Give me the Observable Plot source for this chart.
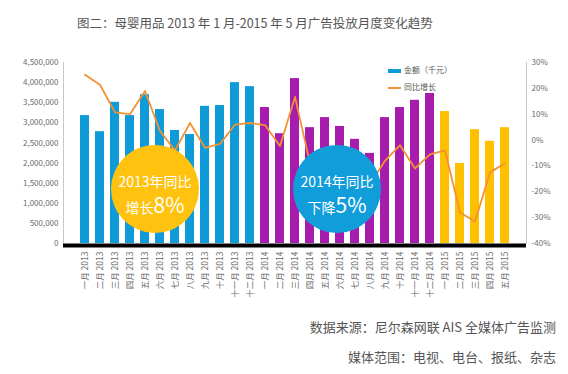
<!DOCTYPE html>
<html><head><meta charset="utf-8">
<script src="https://cdn.jsdelivr.net/npm/d3@7"></script>
<script src="https://cdn.jsdelivr.net/npm/@observablehq/plot@0.6"></script>
<style>
body{margin:0;background:#fff;font-family:"Noto Sans CJK SC","Noto Sans",sans-serif;}
#wrap{position:relative;width:568px;height:374px;overflow:hidden;background:#fff;}
#title{position:absolute;left:77px;top:13px;font-size:12.5px;color:#555;white-space:nowrap;}
#chart{position:absolute;left:0;top:0;}
.leg{position:absolute;font-size:8px;color:#595959;white-space:nowrap;}
.sw{display:inline-block;vertical-align:middle;margin-right:3px;}
.circ{position:absolute;width:88px;height:88px;border-radius:50%;color:#fff;text-align:center;}
.circ .l1{position:absolute;left:0;right:0;top:28px;font-size:14px;line-height:16px;}
.circ .l2{position:absolute;left:0;right:0;top:48px;font-size:14px;line-height:22px;}
.circ .big{font-size:21px;}
.cap{position:absolute;right:12px;font-size:13px;color:#555;white-space:nowrap;}
</style></head><body>
<div id="wrap">
  <div id="chart"></div>
  <div id="title">图二：母婴用品 2013 年 1 月-2015 年 5 月广告投放月度变化趋势</div>
  <div class="leg" style="left:388px;top:64px;"><span class="sw" style="width:13px;height:4px;background:#0E9BD8;"></span>金额（千元）</div>
  <div class="leg" style="left:388px;top:81px;"><span class="sw" style="width:13px;height:2px;background:#F39232;"></span>同比增长</div>
  <div class="circ" style="left:111px;top:145px;background:#FFC20E;"><div class="l1">2013年同比</div><div class="l2">增长<span class="big">8%</span></div></div>
  <div class="circ" style="left:293px;top:145px;background:#119DDA;"><div class="l1">2014年同比</div><div class="l2">下降<span class="big">5%</span></div></div>
  <div class="cap" style="top:317px;">数据来源：尼尔森网联 AIS 全媒体广告监测</div>
  <div class="cap" style="top:347px;">媒体范围：电视、电台、报纸、杂志</div>
</div>
<script>
const months = [
  "一月 2013","二月 2013","三月 2013","四月 2013","五月 2013","六月 2013","七月 2013","八月 2013","九月 2013","十月 2013","十一月 2013","十二月 2013",
  "一月 2014","二月 2014","三月 2014","四月 2014","五月 2014","六月 2014","七月 2014","八月 2014","九月 2014","十月 2014","十一月 2014","十二月 2014",
  "一月 2015","二月 2015","三月 2015","四月 2015","五月 2015"
];
const years = months.map(m => m.slice(-4));
const amounts = [
  3180000, 2780000, 3510000, 3180000, 3700000, 3330000, 2810000, 2710000, 3410000, 3430000, 4000000, 3900000,
  3380000, 2730000, 4100000, 2880000, 3130000, 2910000, 2590000, 2240000, 3130000, 3380000, 3560000, 3730000,
  3280000, 1990000, 2830000, 2540000, 2880000
];
const growth = [
  25.3, 21.4, 10.7, 10.0, 19.0, 3.5, -4.0, 6.6, -3.0, -1.5, 6.0, 6.6,
  5.8, -2.3, 16.7, -9.0, -13.0, -12.0, -10.0, -17.0, -8.0, -2.0, -11.0, -5.5,
  -4.0, -28.0, -31.5, -12.5, -9.0
];
const amountTicks = [0,500000,1000000,1500000,2000000,2500000,3000000,3500000,4000000,4500000];
const pctTicks = [-40,-30,-20,-10,0,10,20,30];
const yearColors = {domain:["2013","2014","2015"], range:["#0E9BD8","#A61DAD","#FFC000"]};

const AMAX = 4500000, PMIN = -40, PMAX = 30;
const toAmt = p => (p - PMIN) / (PMAX - PMIN) * AMAX;
const toPct = v => Math.round(v / AMAX * (PMAX - PMIN) + PMIN);

const data = months.map((m, i) => ({m, yr: years[i], amt: amounts[i], g: growth[i]}));

const chart = Plot.plot({
  width: 568, height: 300,
  marginTop: 62, marginBottom: 57, marginLeft: 63, marginRight: 42,
  style: {fontFamily: '"Noto Sans CJK SC","Noto Sans",sans-serif', fontSize: "8px", color: "#6a6a6a", background: "transparent"},
  x: {type: "band", domain: months, paddingInner: 0.38, paddingOuter: 0.2, label: null},
  y: {domain: [0, AMAX], label: null},
  color: yearColors,
  marks: [
    Plot.frame({anchor: "left", stroke: "#c8c8c8"}),
    Plot.frame({anchor: "right", stroke: "#c8c8c8"}),
    Plot.barY(data, {x: "m", y: "amt", fill: "yr"}),
    Plot.ruleY([0], {stroke: "#000", strokeWidth: 4, dy: 2}),
    Plot.lineY(data, {x: "m", y: d => toAmt(d.g), stroke: "#F39232", strokeWidth: 1.8}),
    Plot.axisY({ticks: amountTicks, tickFormat: d3.format(","), tickSize: 0, tickPadding: 5, label: null}),
    Plot.axisY({anchor: "right", ticks: pctTicks.map(toAmt), tickFormat: v => toPct(v) + "%", tickSize: 0, tickPadding: 5, label: null}),
    Plot.axisX({tickRotate: -90, tickSize: 0, tickPadding: 8, label: null, fontSize: 8.5})
  ]
});
document.getElementById("chart").appendChild(chart);
</script>
</body></html>
